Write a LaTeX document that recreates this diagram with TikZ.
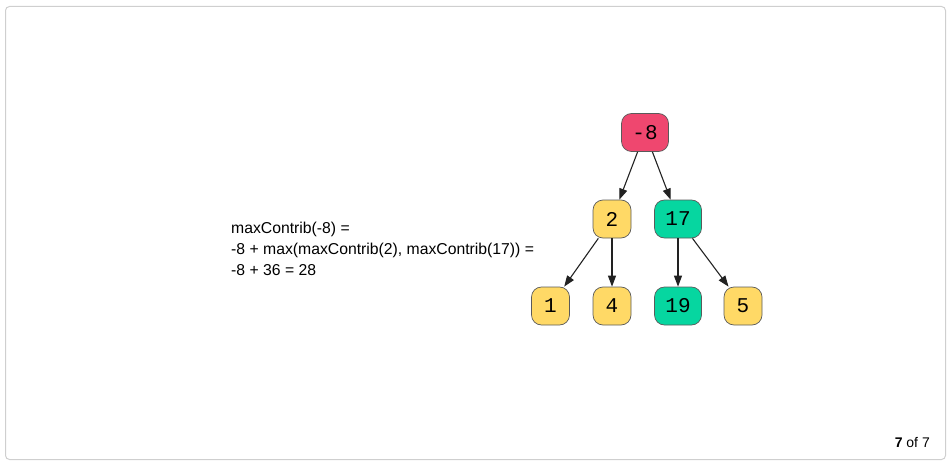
\documentclass[tikz,border=0pt]{standalone}
\usepackage{fontspec}
\setmainfont{Liberation Sans}
\newfontfamily\monofont{Liberation Mono}
\usetikzlibrary{arrows.meta}
\definecolor{nred}{HTML}{EF476F}
\definecolor{nyellow}{HTML}{FFD966}
\definecolor{ngreen}{HTML}{06D6A0}
\definecolor{nborder}{HTML}{5A5A5A}
\definecolor{edgec}{HTML}{222222}
\definecolor{framec}{HTML}{CFCFCF}
\tikzset{
  tnode/.style={draw=nborder, line width=0.7pt, rounded corners=10pt, minimum height=38pt, minimum width=38pt, inner sep=0pt, font=\monofont\fontsize{21}{21}\selectfont, text=black},
  wide/.style={minimum width=47pt},
  redn/.style={tnode, fill=nred},
  yeln/.style={tnode, fill=nyellow},
  grnn/.style={tnode, fill=ngreen},
  edge/.style={draw=edgec, line width=1.1pt, -{Triangle[length=11pt,width=8pt]}},
  txt/.style={anchor=base west, inner sep=0pt, font=\fontsize{15.75}{21}\selectfont, text=black}
}
\begin{document}
\begin{tikzpicture}[x=1pt,y=-1pt]
\useasboundingbox (0,0) rectangle (952,465);
\draw[framec, line width=1pt, rounded corners=4pt] (5.5,6.5) rectangle (945.5,459.5);
\node[redn, wide] (r) at (645,132.5) {-8};
\node[yeln] (a) at (612,219) {2};
\node[grnn, wide] (b) at (678,219) {17};
\node[yeln] (c) at (550.5,306) {1};
\node[yeln] (d) at (612,306) {4};
\node[grnn, wide] (e) at (678,306) {19};
\node[yeln] (f) at (743,306) {5};
\draw[edge] (r) -- (a);
\draw[edge] (r) -- (b);
\draw[edge] (a) -- (c);
\draw[edge] (a) -- (d);
\draw[edge] (b) -- (e);
\draw[edge] (b) -- (f);
\node[txt] (t1) at (231,233.5) {maxContrib(-8) =};
\node[txt] (t2) at (231,254.5) {-8 + max(maxContrib(2), maxContrib(17)) =};
\node[txt] (t3) at (231,275.5) {-8 + 36 = 28};
\node[anchor=base east, inner sep=0pt, font=\fontsize{14}{14}\selectfont] (pg) at (930,447.5) {\textbf{7} of 7};
\end{tikzpicture}
\end{document}
